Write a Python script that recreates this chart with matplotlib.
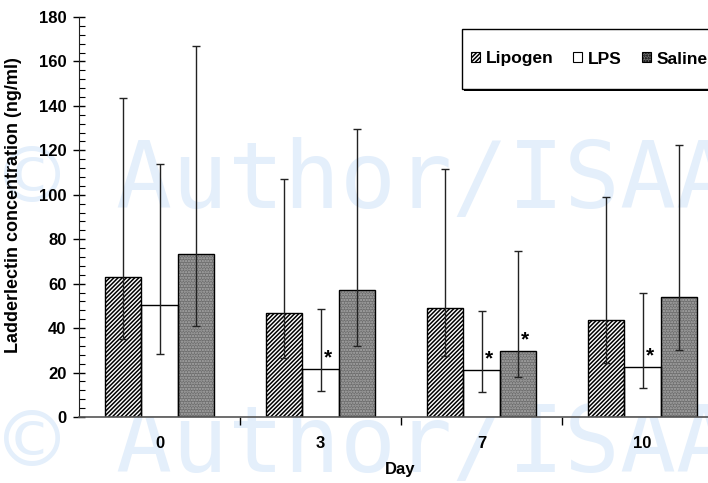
import numpy as np
import matplotlib
matplotlib.use("Agg")
import matplotlib.pyplot as plt
from matplotlib.patches import Rectangle

# values
days = ['0', '3', '7', '10']
groups = ['Lipogen', 'LPS', 'Saline']

lipogen = [63.0, 47.0, 49.2, 43.5]
lipogen_hi = [143.5, 107.0, 111.7, 98.9]
lipogen_lo = [35.0, 26.5, 27.3, 24.1]

lps = [50.5, 21.4, 21.0, 22.4]
lps_hi = [114.0, 48.4, 47.5, 55.6]
lps_lo = [28.3, 11.9, 11.4, 13.2]

saline = [73.5, 57.0, 29.7, 53.9]
saline_hi = [167.0, 129.5, 74.6, 122.4]
saline_lo = [41.0, 32.0, 17.9, 30.2]

# (group index, day index) marked with an asterisk
stars = [(1, 1), (1, 2), (2, 2), (1, 3)]

plt.rcParams['font.family'] = ['Liberation Sans', 'DejaVu Sans']
plt.rcParams['font.weight'] = 'bold'
plt.rcParams['hatch.linewidth'] = 1.1

fig = plt.figure(figsize=(7.08, 4.83), dpi=100)
W, H = 708.0, 483.0
ax = fig.add_axes([79 / W, 66 / H, 644 / W, 400 / H])
ax.patch.set_alpha(0)

# watermark
for yb in [208, 472]:
    fig.text(4 / W, 1 - yb / H, '\u00a9 Author/ISAA', fontsize=67,
             family='DejaVu Sans Mono', fontweight='normal',
             color='#e4effb', zorder=-1, va='baseline', ha='left')

x = np.arange(len(days))
bw = 0.224
means = [lipogen, lps, saline]
his = [lipogen_hi, lps_hi, saline_hi]
los = [lipogen_lo, lps_lo, saline_lo]
faces = ['white', 'white', '#6e6e6e']
hatch_col = ['black', 'black', '#ababab']
hatches = ['////////', None, '......']

for i in range(3):
    pos = x + (i - 1) * bw
    m = np.array(means[i])
    err = [m - np.array(los[i]), np.array(his[i]) - m]
    # fill + hatch, then the black outline on top
    ax.bar(pos, m, bw, color=faces[i], edgecolor=hatch_col[i], linewidth=0,
           hatch=hatches[i], zorder=2)
    ax.bar(pos, m, bw, facecolor='none', edgecolor='black', linewidth=1.0,
           zorder=2.5)
    ax.errorbar(pos, m, yerr=err, fmt='none', ecolor='#222222',
                elinewidth=1.0, capsize=3, capthick=1.0, zorder=3)

for g, d in stars:
    ax.text(x[d] + (g - 1) * bw + 0.045, means[g][d] + 2.5, '*',
            fontsize=15, ha='center', va='baseline', zorder=4)

ax.set_xlim(-0.5, 3.5)
ax.set_ylim(0, 180)
ax.set_yticks(np.arange(0, 181, 20))
ax.set_yticks(np.arange(0, 181, 4), minor=True)
ax.set_xticks(x)
ax.set_xticklabels(days)
ax.set_xticks([0.5, 1.5, 2.5], minor=True)

ax.tick_params(axis='y', which='major', direction='inout', length=8,
               width=1, labelsize=12, pad=5)
ax.tick_params(axis='y', which='minor', direction='in', length=4, width=0.8)
ax.tick_params(axis='x', which='major', length=0, labelsize=12, pad=14)
ax.tick_params(axis='x', which='minor', direction='out', length=6, width=1)

for s in ['top', 'right']:
    ax.spines[s].set_visible(False)
ax.spines['left'].set_color('#222222')
ax.spines['bottom'].set_color('#555555')
ax.spines['bottom'].set_linewidth(1.2)

ax.set_ylabel('Ladderlectin concentration (ng/ml)', fontsize=13,
              fontweight='bold')
ax.yaxis.set_label_coords(-0.088, 0.53)
ax.set_xlabel('Day', fontsize=12, fontweight='bold')
ax.xaxis.set_label_coords(0.498, -0.1125)

# legend box with shadow
fig.patches.append(Rectangle((464 / W, 1 - 91 / H), 300 / W, 60 / H,
                             transform=fig.transFigure, facecolor='black',
                             edgecolor='none', zorder=5))
fig.patches.append(Rectangle((462 / W, 1 - 89 / H), 300 / W, 60 / H,
                             transform=fig.transFigure, facecolor='white',
                             edgecolor='black', linewidth=1, zorder=6))
handles = [Rectangle((0, 0), 1, 1, facecolor=faces[i],
                     edgecolor='black', linewidth=0.8, hatch=hatches[i])
           for i in range(3)]
leg = fig.legend(handles, groups, loc='center left',
                 bbox_to_anchor=(471 / W, 1 - 59 / H),
                 ncol=3, frameon=False, fontsize=12.5, handlelength=0.5,
                 handleheight=0.5, handletextpad=0.35, columnspacing=1.15,
                 borderpad=0, borderaxespad=0)
leg.set_zorder(7)

fig.savefig('out.png', dpi=100)
